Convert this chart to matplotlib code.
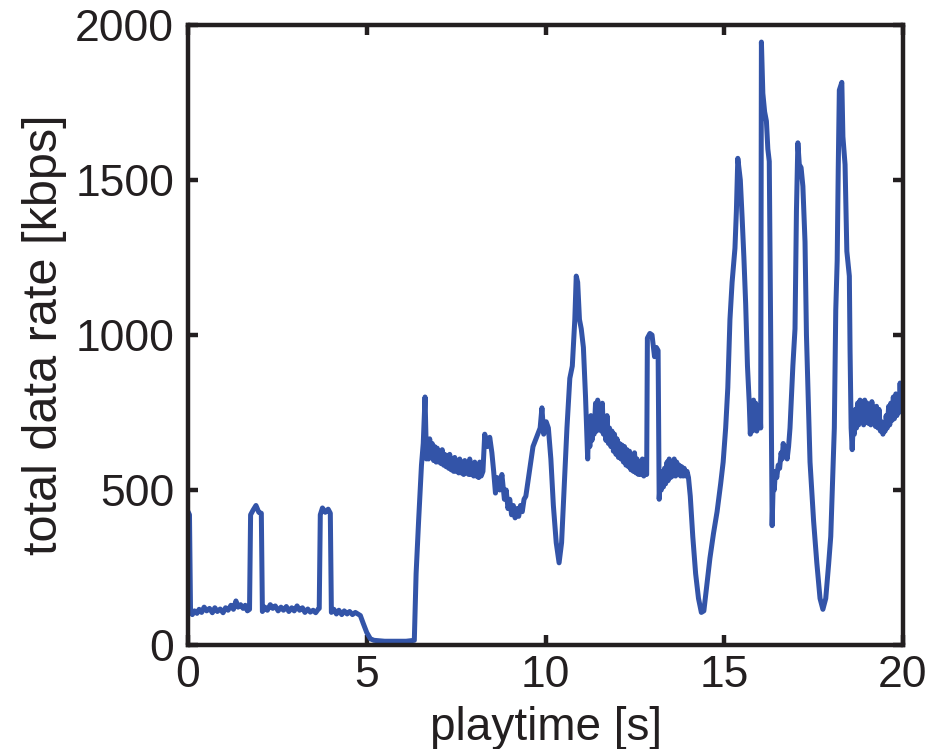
import matplotlib
matplotlib.use("Agg")
import matplotlib.pyplot as plt

plt.rcParams['font.family'] = ['Liberation Sans', 'DejaVu Sans']

# playtime [s]
playtime = [
    0.00, 0.04, 0.07, 0.12, 0.18, 0.25, 0.31, 0.38, 0.45, 0.52, 0.60, 0.68, 0.75, 0.82,
    0.90, 0.98, 1.05, 1.12, 1.20, 1.27, 1.34, 1.40, 1.47, 1.54, 1.60, 1.66, 1.72,
    1.75, 1.82, 1.90, 1.98, 2.05, 2.08, 2.15, 2.22, 2.30, 2.37, 2.44, 2.52, 2.60,
    2.67, 2.75, 2.82, 2.90, 2.97, 3.05, 3.12, 3.20, 3.27, 3.35, 3.42, 3.50, 3.57, 3.64, 3.67,
    3.70, 3.76, 3.84, 3.92, 3.98, 4.01, 4.08, 4.15, 4.22, 4.30, 4.37, 4.45, 4.52, 4.60, 4.68, 4.75,
    4.82, 4.90, 5.00, 5.10, 5.20, 5.50, 5.80, 6.10, 6.33, 6.38, 6.45, 6.53, 6.58, 6.63,
    6.67, 6.70, 6.73, 6.76, 6.80, 6.83, 6.87, 6.90, 6.94, 6.97, 7.01, 7.04, 7.08, 7.11, 7.15, 7.18,
    7.22, 7.25, 7.29, 7.32, 7.36, 7.39, 7.43, 7.46, 7.50, 7.53, 7.57, 7.60, 7.64, 7.67, 7.71, 7.74,
    7.78, 7.81, 7.85, 7.88, 7.92, 7.95, 7.99, 8.02, 8.06, 8.09, 8.13, 8.16, 8.20, 8.25,
    8.30, 8.37, 8.44, 8.50, 8.55, 8.60, 8.65, 8.72, 8.78, 8.85, 8.90, 8.95, 9.00, 9.05, 9.10, 9.15,
    9.20, 9.25, 9.30, 9.35, 9.40, 9.45, 9.55, 9.65, 9.75, 9.85, 9.90, 9.95, 10.02, 10.08, 10.15,
    10.22, 10.30, 10.38, 10.45, 10.52, 10.60, 10.68, 10.75, 10.82, 10.86, 10.90, 10.95, 11.00, 11.06, 11.12, 11.18,
    11.21, 11.24, 11.27, 11.30, 11.33, 11.36, 11.40, 11.43, 11.46, 11.49, 11.52, 11.56, 11.59, 11.62, 11.66, 11.69,
    11.72, 11.76, 11.79, 11.83, 11.86, 11.90, 11.93, 11.97, 12.00, 12.04, 12.07, 12.11, 12.14, 12.18, 12.21, 12.25,
    12.28, 12.32, 12.35, 12.39, 12.42, 12.46, 12.49, 12.53, 12.56, 12.60, 12.63, 12.67, 12.71, 12.75, 12.80, 12.83,
    12.85, 12.92, 12.98, 13.05, 13.10, 13.15, 13.18, 13.21, 13.24, 13.27, 13.30, 13.33, 13.36, 13.40, 13.43, 13.46,
    13.50, 13.53, 13.57, 13.60, 13.64, 13.67, 13.71, 13.74, 13.78, 13.81, 13.85, 13.88, 13.92, 13.96, 14.00,
    14.05, 14.12, 14.20, 14.28, 14.36, 14.43, 14.50, 14.60, 14.70, 14.80, 14.90, 14.97, 15.04, 15.10, 15.16, 15.22,
    15.30, 15.34, 15.38, 15.45, 15.50, 15.55, 15.60, 15.65, 15.70, 15.73, 15.76, 15.79, 15.82, 15.85, 15.88, 15.91,
    15.94, 15.97, 16.00, 16.02, 16.04, 16.08, 16.13, 16.18, 16.22, 16.26, 16.30, 16.34,
    16.37, 16.40, 16.43, 16.47, 16.51, 16.55, 16.59, 16.62, 16.65, 16.69, 16.72, 16.76, 16.80, 16.84, 16.88, 16.92, 16.98,
    17.02, 17.06, 17.10, 17.15, 17.20, 17.26, 17.30, 17.35, 17.40, 17.50, 17.59, 17.68, 17.76, 17.84, 17.92, 17.98,
    18.04, 18.08, 18.12, 18.16, 18.19, 18.22, 18.29, 18.32, 18.38, 18.43, 18.50, 18.52, 18.55, 18.58,
    18.61, 18.64, 18.67, 18.70, 18.73, 18.76, 18.80, 18.83, 18.86, 18.90, 18.93, 18.96, 19.00, 19.03, 19.06, 19.10,
    19.13, 19.16, 19.20, 19.23, 19.26, 19.30, 19.33, 19.37, 19.40, 19.44, 19.47, 19.50, 19.53, 19.56, 19.60,
    19.63, 19.66, 19.70, 19.73, 19.76, 19.80, 19.83, 19.86, 19.89, 19.92, 19.95, 19.98, 20.00,
]

# total data rate [kbps]
data_rate = [
    430, 420, 105, 98, 110, 102, 115, 105, 122, 110, 118, 104, 120, 108,
    116, 104, 120, 112, 128, 115, 142, 122, 130, 118, 128, 110, 115,
    420, 435, 450, 428, 425, 108, 122, 112, 130, 118, 126, 110, 122,
    112, 124, 108, 120, 110, 126, 112, 120, 105, 116, 106, 112, 104, 115, 118,
    420, 442, 428, 438, 425, 105, 115, 100, 112, 98, 110, 100, 108, 98, 105, 100,
    95, 70, 40, 20, 15, 12, 12, 12, 15, 230, 400, 580, 650, 800,
    600, 640, 600, 665, 605, 650, 595, 640, 590, 635, 590, 620, 585, 630, 580, 615,
    575, 610, 570, 615, 565, 600, 560, 605, 560, 590, 555, 600, 555, 585, 550, 595,
    555, 580, 550, 600, 550, 585, 545, 590, 545, 575, 540, 590, 545, 560,
    680, 640, 670, 620, 560, 490, 540, 500, 550, 470, 500, 440, 470, 420, 450, 410,
    440, 415, 450, 430, 470, 480, 560, 640, 670, 700, 765, 680, 720, 700, 600,
    450, 330, 265, 330, 500, 700, 860, 900, 1050, 1190, 1170, 1050, 1020, 960, 800, 600,
    720, 640, 740, 660, 720, 680, 780, 690, 790, 700, 760, 690, 780, 680, 720, 660,
    740, 650, 700, 640, 690, 625, 680, 615, 665, 605, 650, 600, 645, 590, 640, 580,
    630, 575, 625, 565, 610, 560, 620, 555, 600, 550, 590, 550, 600, 545, 560, 550,
    990, 1005, 1000, 930, 960, 950, 470, 530, 500, 560, 510, 570, 520, 590, 530, 600,
    540, 580, 545, 600, 545, 590, 550, 580, 545, 575, 545, 570, 545, 560, 540,
    480, 350, 230, 150, 105, 110, 180, 280, 360, 430, 520, 590, 700, 830, 1050, 1170,
    1280, 1400, 1570, 1500, 1380, 1250, 1100, 900, 780, 680, 760, 690, 790, 700, 780, 690,
    770, 710, 760, 700, 1945, 1780, 1720, 1690, 1600, 1560, 1000, 385,
    520, 500, 560, 540, 580, 570, 620, 600, 650, 610, 640, 600, 640, 700, 800, 900, 1020,
    1400, 1620, 1550, 1540, 1480, 1300, 1000, 800, 590, 400, 265, 150, 115, 150, 260, 350,
    560, 700, 1080, 1240, 1540, 1790, 1815, 1640, 1550, 1270, 1190, 950, 700, 630,
    720, 680, 760, 700, 780, 710, 790, 720, 760, 710, 790, 720, 780, 715, 770, 710,
    785, 720, 760, 705, 770, 700, 760, 690, 720, 680, 700, 690, 740, 700, 770,
    710, 780, 725, 800, 730, 810, 740, 790, 750, 845, 760, 830, 790,
]

x_ticks = [0, 5, 10, 15, 20]
y_ticks = [0, 500, 1000, 1500, 2000]

ink = '#231f20'

fig = plt.figure(figsize=(9.36, 7.49), dpi=100)
ax = fig.add_axes([0.2009, 0.1389, 0.7638, 0.8277])

ax.plot(playtime, data_rate, color='#3354A8', linewidth=3.6,
        solid_joinstyle='round', solid_capstyle='round')

ax.set_xlim(0, 20)
ax.set_ylim(0, 2000)
ax.set_xticks(x_ticks)
ax.set_yticks(y_ticks)
ax.set_xticklabels([str(t) for t in x_ticks])
ax.set_yticklabels([str(t) for t in y_ticks])

for side in ax.spines.values():
    side.set_linewidth(3.2)
    side.set_color(ink)

ax.tick_params(direction='in', length=7, width=3.2, color=ink,
               top=True, right=True, labelsize=32, labelcolor=ink)
ax.tick_params(axis='x', pad=7)
ax.tick_params(axis='y', pad=10)

ax.set_xlabel('playtime [s]', fontsize=33, color=ink)
ax.xaxis.set_label_coords(0.5, -0.098)
ax.xaxis.label.set_verticalalignment('top')
ax.set_ylabel('total data rate [kbps]', fontsize=35, color=ink)
ax.yaxis.set_label_coords(-0.17, 0.5)

fig.savefig('out.png', dpi=100, facecolor='white')
